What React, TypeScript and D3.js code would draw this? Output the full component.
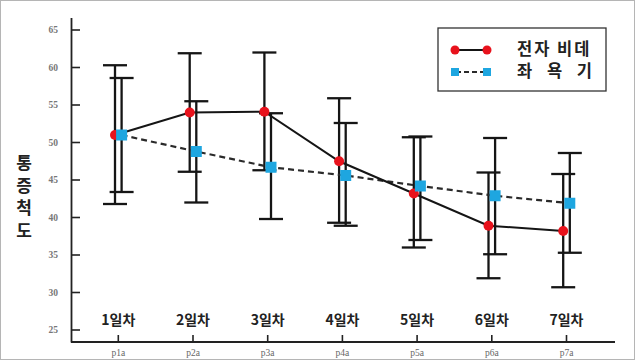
import React from "react";
import * as d3 from "d3";

const categories = ["1일차", "2일차", "3일차", "4일차", "5일차", "6일차", "7일차"];
const pLabels = ["p1a", "p2a", "p3a", "p4a", "p5a", "p6a", "p7a"];
const yTicks = [25, 30, 35, 40, 45, 50, 55, 60, 65];

const bidetMean = [51.0, 54.0, 54.1, 47.5, 43.2, 38.9, 38.2];
const bidetUpper = [60.3, 61.9, 62.0, 55.9, 50.7, 46.0, 45.8];
const bidetLower = [41.8, 46.1, 46.3, 39.3, 36.0, 31.9, 30.7];

const sitzMean = [51.0, 48.8, 46.7, 45.6, 44.2, 42.9, 41.9];
const sitzUpper = [58.6, 55.5, 53.9, 52.6, 50.8, 50.6, 48.6];
const sitzLower = [43.4, 42.0, 39.8, 38.9, 37.0, 35.1, 35.3];

const seriesNames = ["전자 비데", "좌 욕 기"];
const yTitle = ["통", "증", "척", "도"];

const W = 640;
const H = 360;
const KR = "'Noto Sans CJK KR', 'Noto Sans', sans-serif";
const SERIF = "'Liberation Serif', 'DejaVu Serif', serif";
const RED = "#e8121c";
const BLUE = "#1ea6e0";

export default function App() {
  const x = d3.scalePoint<string>().domain(categories).range([118.3, 566.5]);
  const y = d3.scaleLinear().domain([25, 65]).range([330, 30]);
  const off = 3.3;
  const cap = 12;

  const lineGen = d3
    .line<[number, number]>()
    .x((d) => d[0])
    .y((d) => d[1]);

  const redPts: [number, number][] = categories.map((c, i) => [x(c)! - off, y(bidetMean[i])]);
  const bluePts: [number, number][] = categories.map((c, i) => [x(c)! + off, y(sitzMean[i])]);

  const errBar = (cx: number, lo: number, hi: number, key: string) => (
    <g key={key} stroke="#151515" strokeWidth={2.3}>
      <line x1={cx} x2={cx} y1={y(hi)} y2={y(lo)} />
      <line x1={cx - cap} x2={cx + cap} y1={y(hi)} y2={y(hi)} />
      <line x1={cx - cap} x2={cx + cap} y1={y(lo)} y2={y(lo)} />
    </g>
  );

  return (
    <div style={{ position: "absolute", left: 0, top: 0 }}>
      <svg width={W} height={H} style={{ display: "block", background: "#fff" }}>
        <rect x={0.5} y={0.5} width={634} height={359} fill="#fff" stroke="#b5b5b5" strokeWidth={1} />

        {/* y axis */}
        <line x1={71.5} x2={71.5} y1={18} y2={342.5} stroke="#222" strokeWidth={1.8} />
        {yTicks.map((t) => (
          <g key={t}>
            <line x1={71.5} x2={80} y1={y(t)} y2={y(t)} stroke="#222" strokeWidth={1.6} />
            <text
              x={58}
              y={y(t) + 3.3}
              textAnchor="end"
              fontFamily={SERIF}
              fontSize={9.5}
              fontWeight="bold"
              fill="#777"
            >
              {t}
            </text>
          </g>
        ))}

        {/* x axis */}
        <line x1={71} x2={615} y1={342} y2={342} stroke="#222" strokeWidth={1.8} />
        {categories.map((c, i) => (
          <g key={c}>
            <line x1={x(c)!} x2={x(c)!} y1={342} y2={335} stroke="#222" strokeWidth={1.6} />
            <text
              x={x(c)!}
              y={325}
              textAnchor="middle"
              fontFamily={KR}
              fontSize={14}
              fontWeight="bold"
              fill="#222"
            >
              {c}
            </text>
            <text
              x={x(c)!}
              y={356}
              textAnchor="middle"
              fontFamily={SERIF}
              fontSize={9.5}
              fill="#666"
            >
              {pLabels[i]}
            </text>
          </g>
        ))}

        {/* y title */}
        {yTitle.map((ch, i) => (
          <text
            key={i}
            x={24}
            y={169 + i * 22.5}
            textAnchor="middle"
            fontFamily={KR}
            fontSize={17}
            fontWeight="bold"
            fill="#222"
          >
            {ch}
          </text>
        ))}

        {/* error bars */}
        {categories.map((c, i) => errBar(x(c)! - off, bidetLower[i], bidetUpper[i], "r" + i))}
        {categories.map((c, i) => errBar(x(c)! + off, sitzLower[i], sitzUpper[i], "b" + i))}

        {/* lines */}
        <path d={lineGen(bluePts) || ""} fill="none" stroke="#2a2a2a" strokeWidth={2.2} strokeDasharray="6,4" />
        <path d={lineGen(redPts) || ""} fill="none" stroke="#151515" strokeWidth={2} />

        {/* markers */}
        {redPts.map((p, i) => (
          <circle key={"rc" + i} cx={p[0]} cy={p[1]} r={5} fill={RED} />
        ))}
        {bluePts.map((p, i) => (
          <rect key={"bs" + i} x={p[0] - 5.5} y={p[1] - 5.5} width={11} height={11} fill={BLUE} />
        ))}

        {/* legend */}
        <rect x={438} y={28} width={168} height={63} fill="#fff" stroke="#333" strokeWidth={1.3} />
        <line x1={455} x2={487} y1={50} y2={50} stroke="#151515" strokeWidth={2} />
        <circle cx={455} cy={50} r={4.5} fill={RED} />
        <circle cx={487} cy={50} r={4.5} fill={RED} />
        <text x={517} y={55} fontFamily={KR} fontSize={16.5} fontWeight="bold" fill="#222" letterSpacing={2}>
          {seriesNames[0]}
        </text>
        <line x1={456} x2={486} y1={72} y2={72} stroke="#2a2a2a" strokeWidth={2} strokeDasharray="5,3" />
        <rect x={451} y={68} width={8} height={8} fill={BLUE} />
        <rect x={483} y={68} width={8} height={8} fill={BLUE} />
        <text x={517} y={77} fontFamily={KR} fontSize={16.5} fontWeight="bold" fill="#222" letterSpacing={5.5}>
          {seriesNames[1]}
        </text>
      </svg>
    </div>
  );
}
